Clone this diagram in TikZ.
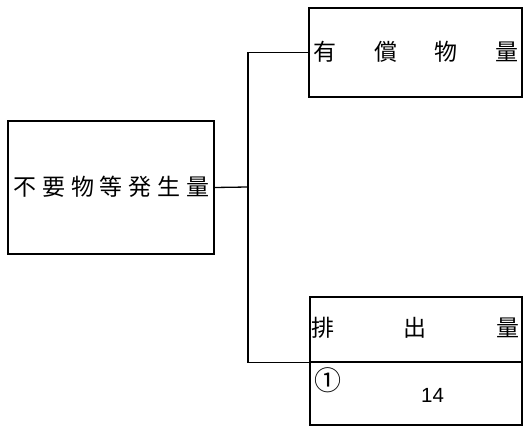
\documentclass[tikz,border=0pt]{standalone}
\usepackage{fontspec}
\newfontfamily\jpfont{Noto Sans CJK JP}
\setsansfont{Liberation Sans}
\usetikzlibrary{positioning}

\tikzset{
  box/.style={draw, line width=1.3pt, rectangle, inner sep=0pt},
  caption/.style={inner sep=0pt, font=\jpfont\fontsize{23}{23}\selectfont}
  }
\tikzstyle{link} = [draw, line width=1.3pt, -]

\begin{document}
\begin{tikzpicture}[x=1pt, y=-1pt]
    \useasboundingbox (0,0) rectangle (524,427);

    % Boxes
    \node[box, minimum width=206pt, minimum height=133pt] (gen) at (111,187.5) {};
    \node[box, minimum width=213pt, minimum height=89pt] (valuable) at (415.5,52.5) {};
    \node[box, minimum width=212pt, minimum height=65pt] (dischead) at (416,329.5) {};
    \node[box, minimum width=212pt, minimum height=63pt] (discval) at (416,393.5) {};

    % Texts
    \node[caption] (gentext) at (111.5,187) {\makebox[196pt][s]{不\hfill 要\hfill 物\hfill 等\hfill 発\hfill 生\hfill 量}};
    \node[caption] (valtext) at (416,52) {\makebox[206pt][s]{有\hfill 償\hfill 物\hfill 量}};
    \node[caption] (disctext) at (415,328) {\makebox[208pt][s]{排\hfill 出\hfill 量}};
    \node[inner sep=0pt, font=\jpfont\fontsize{27}{27}\selectfont] (mark) at (328,380) {①};
    \node[inner sep=0pt, font=\sffamily\fontsize{20.5}{20.5}\selectfont] (amount) at (432.5,395) {14};

    % Connectors
    \coordinate (junction) at (248,187);
    \path[link] (gen.east) -- (junction);
    \path[link] (junction) |- (valuable.west);
    \path[link] (junction) |- (dischead.south west);
\end{tikzpicture}
\end{document}
